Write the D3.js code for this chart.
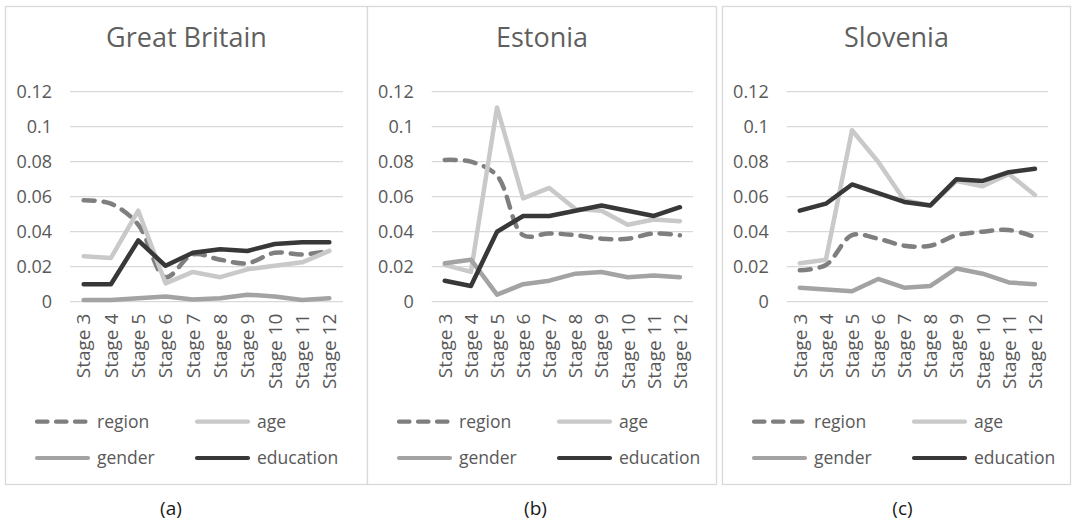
<!DOCTYPE html>
<html>
<head>
<meta charset="utf-8">
<script src="https://cdn.jsdelivr.net/npm/d3@7"></script>
<style>
  html, body { margin: 0; padding: 0; background: #fff; }
  svg { display: block; }
  text { font-family: "Open Sans", "Noto Sans", sans-serif; }
</style>
</head>
<body>
<svg id="chart" width="1073" height="524"></svg>
<script>
// Stages on the x axis
const stages = ["Stage 3", "Stage 4", "Stage 5", "Stage 6", "Stage 7", "Stage 8", "Stage 9", "Stage 10", "Stage 11", "Stage 12"];
const yTicks = [0, 0.02, 0.04, 0.06, 0.08, 0.1, 0.12];
const countries = ["Great Britain", "Estonia", "Slovenia"];
const captions = ["(a)", "(b)", "(c)"];
const seriesNames = ["region", "age", "gender", "education"];

// Great Britain
const gbRegion    = [0.058, 0.056, 0.044, 0.014, 0.027, 0.024, 0.022, 0.028, 0.027, 0.029];
const gbAge       = [0.026, 0.025, 0.052, 0.0105, 0.017, 0.014, 0.0185, 0.0205, 0.0225, 0.029];
const gbGender    = [0.001, 0.001, 0.002, 0.003, 0.0013, 0.002, 0.004, 0.003, 0.001, 0.002];
const gbEducation = [0.010, 0.010, 0.035, 0.0205, 0.028, 0.030, 0.029, 0.033, 0.034, 0.034];

// Estonia
const eeRegion    = [0.081, 0.080, 0.072, 0.038, 0.039, 0.038, 0.036, 0.036, 0.039, 0.038];
const eeAge       = [0.021, 0.017, 0.111, 0.059, 0.065, 0.053, 0.052, 0.044, 0.047, 0.046];
const eeGender    = [0.022, 0.024, 0.004, 0.010, 0.012, 0.016, 0.017, 0.014, 0.015, 0.014];
const eeEducation = [0.012, 0.009, 0.040, 0.049, 0.049, 0.052, 0.055, 0.052, 0.049, 0.054];

// Slovenia
const siRegion    = [0.018, 0.021, 0.038, 0.036, 0.032, 0.032, 0.038, 0.040, 0.041, 0.037];
const siAge       = [0.022, 0.024, 0.098, 0.080, 0.058, 0.055, 0.069, 0.066, 0.073, 0.061];
const siGender    = [0.008, 0.007, 0.006, 0.013, 0.008, 0.009, 0.019, 0.016, 0.011, 0.010];
const siEducation = [0.052, 0.056, 0.067, 0.062, 0.057, 0.055, 0.070, 0.069, 0.074, 0.076];

const panelData = [
  [gbRegion, gbAge, gbGender, gbEducation],
  [eeRegion, eeAge, eeGender, eeEducation],
  [siRegion, siAge, siGender, siEducation]
];

// Per-series styling
const styles = [
  { color: "#7f7f7f", dash: "11,9", smooth: true },
  { color: "#c9c9c9", dash: null, smooth: false },
  { color: "#a3a3a3", dash: null, smooth: false },
  { color: "#383838", dash: null, smooth: false }
];

// Panel frames and plot areas
const panels = [
  { x0: 5,   x1: 367,  plotL: 70,    plotR: 343,  cap: 171 },
  { x0: 367, x1: 716,  plotL: 431.7, plotR: 693,  cap: 535.5 },
  { x0: 722, x1: 1070, plotL: 786.7, plotR: 1048, cap: 902.5 }
];
const boxTop = 6, boxBottom = 484;
const plotTop = 91.7, plotBottom = 301.7;

const svg = d3.select("#chart");
const y = d3.scaleLinear().domain([0, 0.12]).range([plotBottom, plotTop]);

panels.forEach((p, pi) => {
  const g = svg.append("g");

  g.append("rect")
    .attr("x", p.x0 + 0.5).attr("y", boxTop + 0.5)
    .attr("width", p.x1 - p.x0).attr("height", boxBottom - boxTop)
    .attr("fill", "#fff").attr("stroke", "#d9d9d9").attr("stroke-width", 1.3);

  // Title
  g.append("text")
    .attr("x", (p.x0 + p.x1) / 2 + 0.5).attr("y", 46.5)
    .attr("text-anchor", "middle")
    .attr("font-size", 27).attr("fill", "#5f5f5f")
    .text(countries[pi]);

  const x = d3.scaleBand().domain(stages).range([p.plotL, p.plotR]);
  const cx = d => x(d) + x.bandwidth() / 2;

  // Horizontal gridlines
  g.append("g").selectAll("line").data(yTicks).join("line")
    .attr("x1", p.plotL).attr("x2", p.plotR)
    .attr("y1", d => y(d)).attr("y2", d => y(d))
    .attr("stroke", "#d9d9d9").attr("stroke-width", 1.3);

  // Y axis labels
  const yAxis = d3.axisLeft(y).tickValues(yTicks).tickSize(0).tickPadding(0)
    .tickFormat(d => d3.format("")(+d.toFixed(2)));
  const ya = g.append("g").attr("transform", `translate(${p.plotL - 18},0)`).call(yAxis);
  ya.select(".domain").remove();
  ya.selectAll("text").attr("font-size", 18).attr("fill", "#595959")
    .attr("font-family", "'Open Sans', sans-serif");

  // X axis labels (rotated)
  const xAxis = d3.axisBottom(x).tickSize(0).tickPadding(0);
  const xa = g.append("g").attr("transform", `translate(0,${plotBottom + 12})`).call(xAxis);
  xa.select(".domain").remove();
  xa.selectAll("text")
    .attr("font-size", 19).attr("fill", "#595959")
    .attr("font-family", "'Open Sans', sans-serif")
    .attr("transform", "rotate(-90)")
    .attr("text-anchor", "end")
    .attr("x", 0).attr("y", 0).attr("dy", "0.36em");

  // Series lines
  panelData[pi].forEach((vals, si) => {
    const st = styles[si];
    const line = d3.line()
      .x((d, i) => cx(stages[i]))
      .y(d => y(d))
      .curve(st.smooth ? d3.curveCatmullRom.alpha(0.5) : d3.curveLinear);
    g.append("path")
      .datum(vals)
      .attr("d", line)
      .attr("fill", "none")
      .attr("stroke", st.color)
      .attr("stroke-width", 4.5)
      .attr("stroke-linejoin", "round")
      .attr("stroke-linecap", "round")
      .attr("stroke-dasharray", st.dash);
  });

  // Legend (2 x 2)
  const legX = [p.x0 + 30, p.x0 + 190];
  const legY = [421.7, 458];
  seriesNames.forEach((name, si) => {
    const lx = legX[si % 2], ly = legY[Math.floor(si / 2)];
    const st = styles[si];
    g.append("line")
      .attr("x1", lx + 2).attr("x2", lx + 55 - 2)
      .attr("y1", ly).attr("y2", ly)
      .attr("stroke", st.color).attr("stroke-width", 4.2)
      .attr("stroke-linecap", "round")
      .attr("stroke-dasharray", st.dash ? "10.5,8.5" : null);
    g.append("text")
      .attr("x", lx + 62).attr("y", ly).attr("dy", "0.35em")
      .attr("font-size", 17.5).attr("fill", "#595959")
      .text(name);
  });

  // Sub-figure caption
  svg.append("text")
    .attr("x", p.cap).attr("y", 515)
    .attr("text-anchor", "middle")
    .attr("font-family", "'Liberation Sans', Arial, sans-serif")
    .attr("font-size", 19).attr("fill", "#1a1a1a")
    .text(captions[pi]);
});
</script>
</body>
</html>
